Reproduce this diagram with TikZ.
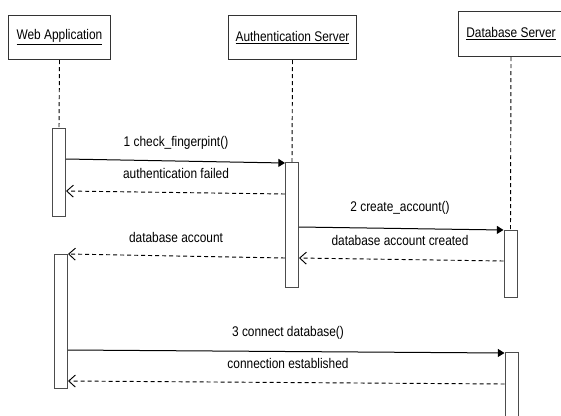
\documentclass[tikz,border=0pt]{standalone}
\usepackage{fontspec}
\setmainfont{Liberation Sans}[FakeStretch=0.85]
\usetikzlibrary{arrows.meta}

\tikzset{
  head/.style={draw=black!80, line width=0.75pt, anchor=north west, inner sep=0pt, font=\fontsize{10.5}{12}\selectfont},
  act/.style={draw=black!70, fill=white, line width=0.75pt, anchor=north, minimum width=9.75pt, inner sep=0pt},
  life/.style={line width=0.7pt, dash pattern={on 3pt off 2.25pt}},
  msg/.style={line width=0.75pt, -{Triangle[length=5pt,width=6pt]}},
  ret/.style={line width=0.7pt, dash pattern={on 3pt off 2.25pt}, -{Straight Barb[length=5pt,width=9pt]}},
  lbl/.style={inner sep=0.75pt, font=\fontsize{10.5}{12}\selectfont}
}

\begin{document}
\begin{tikzpicture}[x=0.75pt,y=0.75pt,yscale=-1]
\path[use as bounding box] (0,0) rectangle (561,415);

% Lifeline heads
\node[head, minimum width=76.5pt, minimum height=33pt] (web) at (8,15) {\underline{Web Application}};
\node[head, minimum width=96pt, minimum height=33pt] (auth) at (228,15) {\underline{Authentication Server}};
\node[head, minimum width=78.75pt, minimum height=33.75pt] (db) at (458,11) {\underline{Database Server}};

% Activation bars
\node[act, minimum height=66pt] (webA) at (59,128) {};
\node[act, minimum height=93.75pt] (authA) at (292,162) {};
\node[act, minimum height=50.25pt] (dbA) at (510.5,230) {};
\node[act, minimum height=100.5pt] (webB) at (61,254) {};
\node[act, minimum height=52.5pt] (dbB) at (511.5,352) {};

% Lifelines
\draw[life] (web.south) -- (webA.north);
\draw[life] (auth.south) -- (authA.north);
\draw[life] (db.south) -- (dbA.north);

% Message ends
\coordinate (m1a) at (webA.east |- 0,159);
\coordinate (m1b) at (authA.west |- 0,163);
\coordinate (m2a) at (authA.west |- 0,194);
\coordinate (m2b) at (webA.east |- 0,191);
\coordinate (m3a) at (authA.east |- 0,227);
\coordinate (m3b) at (dbA.west |- 0,230);
\coordinate (m4a) at (dbA.west |- 0,261);
\coordinate (m4b) at (authA.east |- 0,258);
\coordinate (m5a) at (authA.west |- 0,258);
\coordinate (m5b) at (webB.east |- 0,254);
\coordinate (m6a) at (webB.east |- 0,350);
\coordinate (m6b) at (dbB.west |- 0,353);
\coordinate (m7a) at (dbB.west |- 0,384);
\coordinate (m7b) at (webB.east |- 0,381);

% Messages
\draw[msg] (m1a) -- (m1b);
\draw[ret] (m2a) -- (m2b);
\draw[msg] (m3a) -- (m3b);
\draw[ret] (m4a) -- (m4b);
\draw[ret] (m5a) -- (m5b);
\draw[msg] (m6a) -- (m6b);
\draw[ret] (m7a) -- (m7b);

% Labels
\node[lbl] (l1) at (176,143) {1 check\_fingerpint()};
\node[lbl] (l2) at (176,173) {authentication failed};
\node[lbl] (l3) at (400,208) {2 create\_account()};
\node[lbl] (l4) at (400,240) {database account created};
\node[lbl] (l5) at (176,237) {database account};
\node[lbl] (l6) at (288,333) {3 connect database()};
\node[lbl] (l7) at (288,363) {connection established};
\end{tikzpicture}
\end{document}
